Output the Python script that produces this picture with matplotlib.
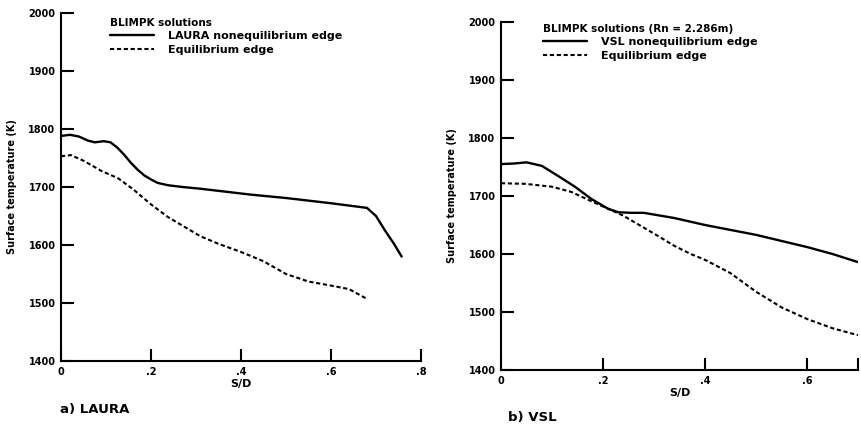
import matplotlib
matplotlib.use("Agg")
import matplotlib.pyplot as plt
from matplotlib.ticker import FuncFormatter

W, H = 861, 429

# a) LAURA
laura_s = [0, 0.02, 0.04, 0.06, 0.075, 0.095, 0.11, 0.125, 0.14, 0.155, 0.17, 0.185,
           0.2, 0.215, 0.238, 0.27, 0.31, 0.42, 0.5, 0.6, 0.65, 0.68, 0.7, 0.72, 0.74, 0.757]
laura_noneq = [1788, 1790, 1787, 1780, 1777, 1779, 1777, 1768, 1756, 1742, 1730, 1720,
               1713, 1707, 1703, 1700, 1697, 1687, 1681, 1672, 1667, 1664, 1650, 1625,
               1602, 1580]
laura_eq_s = [0, 0.022, 0.051, 0.089, 0.127, 0.162, 0.2, 0.238, 0.31, 0.35, 0.4, 0.45,
              0.5, 0.55, 0.6, 0.64, 0.68]
laura_eq = [1753, 1755, 1745, 1728, 1715, 1695, 1670, 1648, 1615, 1602, 1588, 1572,
            1550, 1537, 1530, 1524, 1507]

# b) VSL
vsl_s = [0, 0.025, 0.05, 0.08, 0.113, 0.145, 0.177, 0.21, 0.23, 0.255, 0.28, 0.34,
         0.4, 0.5, 0.6, 0.65, 0.7]
vsl_noneq = [1755, 1756, 1758, 1752, 1734, 1716, 1695, 1678, 1672, 1671, 1671, 1662,
             1650, 1633, 1612, 1600, 1586]
vsl_eq_s = [0, 0.047, 0.1, 0.138, 0.177, 0.21, 0.24, 0.275, 0.308, 0.34, 0.372, 0.4,
            0.45, 0.5, 0.55, 0.6, 0.65, 0.7]
vsl_eq = [1722, 1721, 1716, 1707, 1691, 1678, 1666, 1648, 1631, 1614, 1600, 1590,
          1567, 1535, 1508, 1488, 1472, 1460]

y_ticks = [1400, 1500, 1600, 1700, 1800, 1900, 2000]

plt.rcParams['font.family'] = ['DejaVu Sans']
plt.rcParams['font.weight'] = 'bold'

fig = plt.figure(figsize=(W / 100, H / 100), dpi=100)


def box(x0, y0, x1, y1):
    # pixel box -> figure fractions
    return [x0 / W, 1 - y1 / H, (x1 - x0) / W, (y1 - y0) / H]


def frac(x):
    if x == 0:
        return "0"
    return ("%.1f" % x).lstrip("0")


def style(ax, xmax, xticks):
    ax.set_xlim(0, xmax)
    ax.set_ylim(1400, 2000)
    ax.set_yticks(y_ticks)
    ax.set_xticks(xticks)
    ax.xaxis.set_major_formatter(FuncFormatter(lambda v, p: frac(v)))
    for side in ("top", "right"):
        ax.spines[side].set_visible(False)
    for side in ("left", "bottom"):
        ax.spines[side].set_linewidth(1.5)
    ax.tick_params(direction="in", length=9, width=1.5, labelsize=7, pad=4)
    ax.set_xlabel("S/D", fontsize=8, fontweight="bold", labelpad=2)
    ax.set_ylabel("Surface temperature (K)", fontsize=7, fontweight="bold", labelpad=8)
    for t in ax.get_xticklabels() + ax.get_yticklabels():
        t.set_fontweight("bold")


line_kw = dict(color="black", lw=1.7, solid_joinstyle="round", solid_capstyle="round")
dash_kw = dict(color="black", lw=1.5, ls=(0, (2, 1.3)))
leg_kw = dict(loc="upper left", frameon=False, alignment="left",
              bbox_transform=fig.transFigure, borderpad=0, borderaxespad=0,
              handlelength=4, handletextpad=1.2, labelspacing=0.3,
              prop={"size": 8, "weight": "bold"},
              title_fontproperties={"size": 7.5, "weight": "bold"})

ax1 = fig.add_axes(box(61, 13, 421, 361))
ax1.plot(laura_s, laura_noneq, label="LAURA nonequilibrium edge", **line_kw)
ax1.plot(laura_eq_s, laura_eq, label="Equilibrium edge", **dash_kw)
style(ax1, 0.8, [0, 0.2, 0.4, 0.6, 0.8])
ax1.legend(title="BLIMPK solutions", bbox_to_anchor=(110 / W, 1 - 18 / H), **leg_kw)

ax2 = fig.add_axes(box(501, 22, 858, 370))
ax2.plot(vsl_s, vsl_noneq, label="VSL nonequilibrium edge", **line_kw)
ax2.plot(vsl_eq_s, vsl_eq, label="Equilibrium edge", **dash_kw)
style(ax2, 0.7, [0, 0.2, 0.4, 0.6, 0.7])
ax2.set_xticklabels(["0", ".2", ".4", ".6", ""])
ax2.legend(title="BLIMPK solutions (Rn = 2.286m)", bbox_to_anchor=(543 / W, 1 - 24 / H),
           **leg_kw)

fig.text(60 / W, 1 - 410 / H, "a) LAURA", fontsize=9.5, fontweight="bold", va="center")
fig.text(508 / W, 1 - 417 / H, "b) VSL", fontsize=9.5, fontweight="bold", va="center")

fig.savefig("out.png", dpi=100)
